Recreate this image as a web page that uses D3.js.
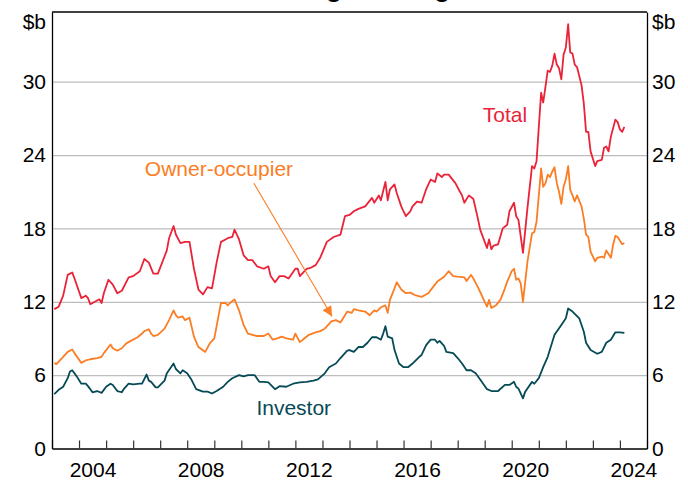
<!DOCTYPE html>
<html><head><meta charset="utf-8">
<script src="https://cdn.jsdelivr.net/npm/d3@7"></script>
<style>
body{margin:0;background:#fff}
text{font-family:Arial,"Liberation Sans",Helvetica,sans-serif}
</style>
</head><body>
<svg id="chart" width="688" height="483"></svg>
<script>
// ---------- data ($b) ----------
const totalDates = ["2003-02","2003-04","2003-06","2003-08","2003-10","2003-11","2004-02","2004-04","2004-05","2004-06","2004-08","2004-10","2004-11","2004-12","2005-02","2005-04","2005-06","2005-08","2005-11","2006-01","2006-04","2006-06","2006-08","2006-10","2006-12","2007-04","2007-05","2007-07","2007-08","2007-10","2007-12","2008-02","2008-04","2008-06","2008-08","2008-10","2008-12","2009-02","2009-04","2009-06","2009-07","2009-09","2009-10","2009-12","2010-02","2010-04","2010-06","2010-08","2010-11","2011-01","2011-02","2011-04","2011-06","2011-08","2011-10","2012-01","2012-02","2012-03","2012-06","2012-08","2012-10","2012-12","2013-03","2013-06","2013-09","2013-11","2014-01","2014-03","2014-05","2014-08","2014-11","2014-12","2015-02","2015-03","2015-05","2015-06","2015-07","2015-09","2015-10","2015-12","2016-01","2016-02","2016-04","2016-05","2016-07","2016-09","2016-11","2017-01","2017-03","2017-04","2017-06","2017-07","2017-09","2017-12","2018-02","2018-03","2018-04","2018-06","2018-08","2018-10","2018-11","2019-02","2019-03","2019-04","2019-05","2019-07","2019-09","2019-11","2019-12","2020-02","2020-03","2020-04","2020-06","2020-08","2020-10","2020-11","2020-12","2021-02","2021-03","2021-04","2021-05","2021-06","2021-07","2021-08","2021-09","2021-10","2021-11","2021-12","2022-01","2022-02","2022-03","2022-04","2022-05","2022-06","2022-08","2022-09","2022-10","2022-11","2022-12","2023-02","2023-03","2023-05","2023-06","2023-07","2023-08","2023-09","2023-11","2023-12","2024-01","2024-02","2024-03"];
const totalValues = [11.4,11.6,12.5,14.2,14.4,13.9,12.3,12.5,12.3,11.8,12.0,12.2,11.9,12.7,13.8,13.4,12.7,12.9,14.0,14.1,14.5,15.5,15.2,14.3,14.3,16.2,17.2,18.2,17.5,16.8,16.9,16.9,14.7,13.0,12.6,13.2,13.1,15.2,16.9,17.1,17.2,17.3,17.9,17.1,15.8,15.4,15.4,14.9,14.7,14.9,14.1,13.6,14.1,14.1,13.9,14.7,14.7,14.1,14.7,14.8,15.0,15.6,16.9,17.3,17.5,19.0,19.1,19.4,19.6,19.8,20.5,20.1,20.7,20.3,21.8,20.3,21.2,21.6,20.9,19.8,19.4,19.0,19.4,19.8,20.2,20.1,21.2,22.0,21.8,22.5,22.2,22.4,22.4,21.7,21.0,20.7,20.1,20.7,20.4,18.8,17.9,16.4,17.1,16.3,16.6,16.7,18.0,18.3,19.4,20.1,19.0,18.7,16.0,19.7,23.1,22.9,23.5,29.1,28.3,29.6,30.9,30.8,31.3,32.3,31.4,31.1,30.2,32.2,32.8,34.7,32.4,32.3,31.4,31.2,29.7,28.2,25.9,25.9,24.3,23.1,23.5,23.6,24.6,24.7,24.3,25.5,26.9,26.7,26.1,25.9,26.3];

const ownerDates = ["2003-02","2003-03","2003-06","2003-08","2003-10","2003-11","2004-02","2004-04","2004-06","2004-09","2004-11","2004-12","2005-03","2005-04","2005-06","2005-08","2005-10","2005-12","2006-03","2006-05","2006-06","2006-08","2006-09","2006-10","2006-12","2007-03","2007-05","2007-07","2007-08","2007-09","2007-11","2007-12","2008-02","2008-04","2008-06","2008-09","2008-11","2009-01","2009-04","2009-06","2009-07","2009-08","2009-10","2009-12","2010-02","2010-04","2010-06","2010-08","2010-11","2011-01","2011-03","2011-05","2011-07","2011-09","2011-12","2012-01","2012-03","2012-05","2012-07","2012-10","2012-12","2013-02","2013-05","2013-07","2013-09","2013-11","2013-12","2014-02","2014-03","2014-05","2014-08","2014-10","2014-12","2015-01","2015-03","2015-05","2015-06","2015-07","2015-09","2015-10","2015-12","2016-02","2016-04","2016-06","2016-09","2016-12","2017-02","2017-04","2017-07","2017-09","2017-11","2018-01","2018-04","2018-05","2018-07","2018-08","2018-10","2018-11","2019-01","2019-02","2019-03","2019-04","2019-06","2019-08","2019-10","2019-11","2020-01","2020-02","2020-03","2020-04","2020-05","2020-06","2020-08","2020-10","2020-11","2020-12","2021-02","2021-03","2021-04","2021-05","2021-06","2021-07","2021-08","2021-09","2021-10","2021-11","2021-12","2022-01","2022-02","2022-03","2022-04","2022-05","2022-06","2022-08","2022-09","2022-10","2022-11","2022-12","2023-02","2023-03","2023-05","2023-06","2023-07","2023-09","2023-10","2023-11","2023-12","2024-02","2024-03"];
const ownerValues = [7.0,6.9,7.5,7.9,8.1,7.8,7.0,7.2,7.3,7.4,7.5,7.8,8.5,8.2,8.0,8.2,8.6,8.8,9.1,9.4,9.6,9.75,9.4,9.2,9.3,9.8,10.5,11.3,10.9,10.7,10.8,10.5,10.7,9.15,8.3,7.9,8.6,9.0,11.9,11.9,11.7,11.9,12.2,11.3,10.1,9.4,9.3,9.2,9.2,9.4,8.9,9.0,9.15,9.0,8.9,9.4,8.7,9.0,9.3,9.5,9.6,9.8,10.4,10.5,10.3,10.9,11.2,11.1,11.4,11.3,11.2,10.9,11.3,11.2,11.55,11.7,11.1,12.15,13.1,13.6,13.0,12.7,12.75,12.55,12.4,12.7,13.2,13.65,14.05,14.5,14.1,14.05,14.0,13.7,14.2,13.9,13.2,12.8,12.0,11.6,12.15,11.5,11.7,12.15,13.1,13.65,14.5,14.7,13.8,13.9,13.5,12.0,15.3,17.6,17.7,18.55,22.9,21.4,21.7,22.4,22.2,22.65,23.0,21.7,21.0,20.0,21.4,22.0,23.1,21.15,20.7,20.2,20.7,19.8,18.8,17.5,17.3,16.1,15.3,15.6,15.7,15.6,16.2,15.6,16.65,17.4,17.3,16.7,16.8];

const investorDates = ["2003-02","2003-04","2003-06","2003-08","2003-09","2003-10","2003-12","2004-02","2004-04","2004-05","2004-07","2004-09","2004-11","2005-01","2005-03","2005-04","2005-06","2005-08","2005-09","2005-11","2006-01","2006-04","2006-05","2006-07","2006-08","2006-09","2006-11","2006-12","2007-03","2007-04","2007-07","2007-08","2007-10","2007-11","2008-01","2008-03","2008-05","2008-08","2008-10","2008-12","2009-02","2009-05","2009-07","2009-09","2009-12","2010-02","2010-04","2010-07","2010-09","2010-11","2011-01","2011-04","2011-06","2011-09","2011-12","2012-03","2012-06","2012-09","2012-11","2013-02","2013-04","2013-07","2013-09","2013-12","2014-01","2014-03","2014-05","2014-07","2014-09","2014-11","2015-01","2015-03","2015-04","2015-05","2015-06","2015-08","2015-09","2015-11","2016-01","2016-03","2016-05","2016-08","2016-09","2016-11","2017-01","2017-03","2017-04","2017-05","2017-07","2017-08","2017-11","2018-01","2018-03","2018-05","2018-07","2018-09","2018-11","2019-02","2019-04","2019-07","2019-10","2019-12","2020-02","2020-03","2020-04","2020-06","2020-07","2020-10","2020-11","2021-01","2021-03","2021-05","2021-08","2021-11","2022-01","2022-02","2022-04","2022-07","2022-09","2022-10","2022-12","2023-03","2023-05","2023-07","2023-09","2023-11","2024-01","2024-03"];
const investorValues = [4.45,4.8,5.05,5.75,6.3,6.4,5.9,5.3,5.3,5.1,4.6,4.7,4.55,5.05,5.3,5.2,4.7,4.6,4.9,5.3,5.25,5.3,5.3,6.05,5.55,5.45,5.0,5.0,5.55,6.15,6.95,6.5,6.15,6.4,6.15,5.6,4.85,4.65,4.65,4.5,4.7,5.05,5.45,5.75,6.0,5.9,6.0,6.0,5.45,5.45,5.4,4.85,5.1,5.05,5.3,5.4,5.45,5.55,5.65,6.15,6.65,6.95,7.4,8.0,8.05,7.9,8.3,8.3,8.65,9.1,9.1,8.9,9.4,10.0,9.15,9.0,8.05,6.95,6.65,6.65,6.95,7.5,7.65,8.45,8.9,8.9,8.65,8.8,8.4,7.9,7.8,7.4,6.95,6.4,6.4,6.15,5.65,4.85,4.7,4.7,5.2,5.2,5.45,5.05,4.9,4.1,4.65,5.45,5.3,5.75,6.65,7.5,9.3,10.1,10.65,11.45,11.2,10.65,9.55,8.65,8.05,7.75,7.9,8.65,8.9,9.5,9.5,9.45];

const yTicks = [0, 6, 12, 18, 24, 30];
const yearLabels = [2004, 2008, 2012, 2016, 2020, 2024];
const seriesNames = ["Total", "Owner-occupier", "Investor"];
const seriesColors = ["#ea2339", "#fb7d24", "#064a56"];

// ---------- layout ----------
const svg = d3.select("#chart");
const L = 52, R = 647, T = 12, B = 448.5;
const parse = d3.timeParse("%Y-%m");
const x = d3.scaleTime().domain([new Date(2003,0,1), new Date(2025,0,1)]).range([L, R]);
const y = d3.scaleLinear().domain([0, 35.7]).range([B, T]);
const FONT = 21;

// title (cut off at top edge, as in the reference)
svg.append("text").attr("x", 344).attr("y", -3).attr("text-anchor","middle")
  .attr("font-size", 26).attr("font-weight","bold").attr("fill","#000").text("Housing Lending");

// gridlines
svg.append("g").attr("transform",`translate(${L},0)`)
  .call(d3.axisLeft(y).tickValues(yTicks.filter(v=>v>0)).tickSize(-(R-L)).tickFormat(""))
  .call(g=>g.select(".domain").remove())
  .call(g=>g.selectAll("line").attr("stroke","#bdbdbd").attr("stroke-width",1.3));

// clip
svg.append("clipPath").attr("id","clip").append("rect")
  .attr("x",L).attr("y",T).attr("width",R-L).attr("height",B-T);

// lines
const line = d3.line().x(d=>x(d.date)).y(d=>y(d.v));
const mk = (ds, vs) => ds.map((d,i)=>({date: parse(d), v: vs[i]}));
const series = [mk(totalDates,totalValues), mk(ownerDates,ownerValues), mk(investorDates,investorValues)];
const lg = svg.append("g").attr("clip-path","url(#clip)");
[2,1,0].forEach(i=>{
  lg.append("path").datum(series[i]).attr("d", line).attr("fill","none")
    .attr("stroke", seriesColors[i]).attr("stroke-width",1.8).attr("stroke-linejoin","round");
});

// x axis: year ticks pointing up
svg.append("g").attr("transform",`translate(0,${B})`)
  .call(d3.axisBottom(x).ticks(d3.timeYear.every(1)).tickSize(-8).tickSizeOuter(0).tickFormat(""))
  .call(g=>g.select(".domain").attr("stroke","#000").attr("stroke-width",1.3))
  .call(g=>g.selectAll(".tick line").attr("stroke","#333").attr("stroke-width",1.2));
// x labels at mid-year
svg.append("g").attr("transform",`translate(0,${B})`)
  .call(d3.axisBottom(x).tickValues(yearLabels.map(yr=>new Date(yr,6,1))).tickSize(0).tickPadding(14)
        .tickFormat(d=>d.getFullYear()))
  .call(g=>g.select(".domain").remove())
  .call(g=>g.selectAll("text").attr("font-size",FONT).attr("fill","#000")
        .attr("font-family","Arial, 'Liberation Sans', sans-serif"));

// y axes
const yL = svg.append("g").attr("transform",`translate(${L},0)`)
  .call(d3.axisLeft(y).tickValues(yTicks).tickSize(0).tickSizeOuter(0).tickPadding(6));
const yR = svg.append("g").attr("transform",`translate(${R},0)`)
  .call(d3.axisRight(y).tickValues(yTicks).tickSize(0).tickSizeOuter(0).tickPadding(5));
[yL,yR].forEach(g=>{
  g.select(".domain").attr("stroke","#000").attr("stroke-width",1.3);
  g.selectAll("text").attr("font-size",FONT).attr("fill","#000")
   .attr("font-family","Arial, 'Liberation Sans', sans-serif");
});
// top border
svg.append("line").attr("x1",L).attr("x2",R).attr("y1",T).attr("y2",T)
  .attr("stroke","#000").attr("stroke-width",1.3);

// unit labels
svg.append("text").attr("x",L-6).attr("y",T+17).attr("text-anchor","end")
  .attr("font-size",FONT).text("$b");
svg.append("text").attr("x",R+5).attr("y",T+17).attr("text-anchor","start")
  .attr("font-size",FONT).text("$b");

// series labels (positions in data space)
const labelPos = [
  {date: new Date(2019,9,1), v: 26.7},
  {date: new Date(2009,2,5), v: 22.26},
  {date: new Date(2011,11,10), v: 2.74}
];
labelPos.forEach((p,i)=>{
  svg.append("text").attr("x",x(p.date)).attr("y",y(p.v)).attr("text-anchor","middle")
    .attr("font-size",FONT).attr("fill",seriesColors[i]).text(seriesNames[i]);
});

// arrow for Owner-occupier
svg.append("defs").append("marker").attr("id","ah").attr("viewBox","0 0 10 10")
  .attr("refX",10).attr("refY",5).attr("markerWidth",13).attr("markerHeight",10)
  .attr("markerUnits","userSpaceOnUse").attr("orient","auto")
  .append("path").attr("d","M0,0 L10,5 L0,10 z").attr("fill",seriesColors[1]);
const arrowFrom = {date: new Date(2010,5,20), v: 21.7};
const arrowTo = {date: new Date(2013,4,10), v: 10.8};
svg.append("line").attr("x1",x(arrowFrom.date)).attr("y1",y(arrowFrom.v))
  .attr("x2",x(arrowTo.date)).attr("y2",y(arrowTo.v))
  .attr("stroke",seriesColors[1]).attr("stroke-width",1.1).attr("marker-end","url(#ah)");
</script>
</body></html>
